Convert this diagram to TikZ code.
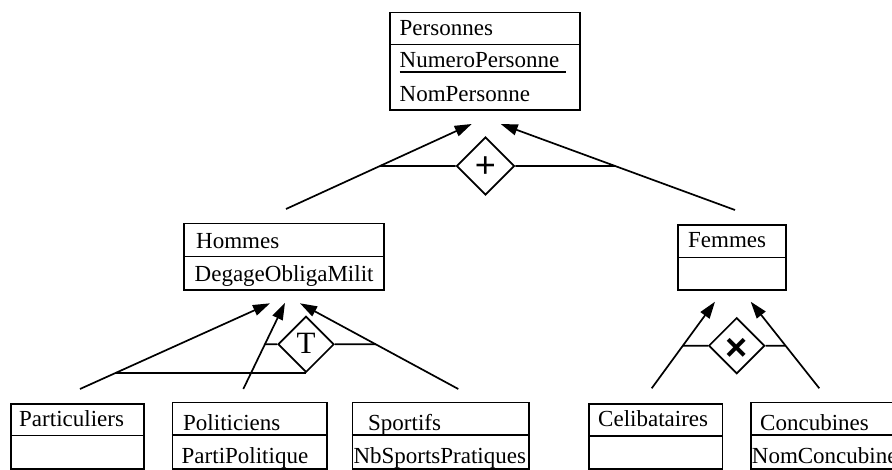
\documentclass[tikz,border=0pt]{standalone}
\usepackage{fontspec}
\setmainfont{Liberation Serif}
\newfontfamily\symfont{Liberation Sans}
\usetikzlibrary{shapes.geometric,arrows.meta,calc}
\tikzset{
  line/.style={line width=1.7pt},
  arr/.style={line width=1.7pt,-{Triangle[length=17pt,width=11pt]}},
  boxframe/.style={draw,line width=1.5pt,rectangle,inner sep=0pt,anchor=north west},
  txt/.style={anchor=base west,inner sep=0pt,font=\fontsize{23}{27}\selectfont},
  gen/.style={draw,line width=1.7pt,diamond,aspect=1,inner sep=0pt,minimum width=#1,minimum height=#1,fill=white},
  sym/.style={inner sep=0pt}
}
% box: name, x1, y1, x2, ydiv, y2
\newcommand{\umlbox}[6]{%
  \pgfmathsetmacro{\bw}{#4-#2}\pgfmathsetmacro{\bh}{#6-#3}%
  \node[boxframe,minimum width=\bw pt,minimum height=\bh pt] (#1) at (#2,#3) {};
  \draw[line width=1.5pt] (#2,#5) -- (#4,#5);
}
\begin{document}
\begin{tikzpicture}[x=1pt,y=-1pt]
\useasboundingbox (0,0) rectangle (892,469);
\clip (0,0) rectangle (892,469);
\fill[white] (0,0) rectangle (892,469);

% boxes
\umlbox{pers}{389}{11.7}{579}{44.3}{109.3}
\umlbox{hom}{183.3}{222.7}{383.3}{256.7}{289}
\umlbox{fem}{677.3}{224}{785}{257.7}{289}
\umlbox{part}{10}{403}{143.3}{435.7}{468}
\umlbox{pol}{171.7}{401.7}{326}{435}{468}
\umlbox{spo}{351.7}{401.7}{528}{435}{468}
\umlbox{celi}{588.3}{403.3}{721.7}{436}{468}
\umlbox{conc}{750}{401.7}{930}{435}{468}

% texts
\node[txt] (t1) at (399.5,35.7) {Personnes};
\node[txt] (t2) at (399.5,67.5) {NumeroPersonne};
\draw[line width=1.3pt] ($(t2.base west)+(0,4.5)$) -- ($(t2.base east)+(6,4.5)$);
\node[txt] (t3) at (399.5,101) {NomPersonne};
\node[txt] (t4) at (196,248.3) {Hommes};
\node[txt] (t5) at (194.5,281.7) {DegageObligaMilit};
\node[txt] (t6) at (688,247.3) {Femmes};
\node[txt] (t7) at (19,426.7) {Particuliers};
\node[txt] (t8) at (183,430) {Politiciens};
\node[txt] (t9) at (181.5,463) {PartiPolitique};
\node[txt] (t10) at (368,430) {Sportifs};
\node[txt] (t11) at (353.3,463) {NbSportsPratiques};
\node[txt] (t12) at (598,426.7) {Celibataires};
\node[txt] (t13) at (760,430) {Concubines};
\node[txt] (t14) at (751.7,463.3) {NomConcubines};

% arrow endpoints
\coordinate (as) at (286,209);     \coordinate (at) at (471.7,124);
\coordinate (bs) at (735,210);     \coordinate (bt) at (500.7,124);
\coordinate (c1s) at (80,389);     \coordinate (c1t) at (270,303.3);
\coordinate (c2s) at (243.3,389);  \coordinate (c2t) at (285,302.7);
\coordinate (c3s) at (458.3,389);  \coordinate (c3t) at (300,303.3);
\coordinate (d1s) at (651.7,388.3);\coordinate (d1t) at (715,301.7);
\coordinate (d2s) at (819.3,388.3);\coordinate (d2t) at (750.7,301.7);

% diamonds
\node[gen=58pt] (gplus) at (485.5,166) {};
\node[gen=56pt] (gT) at (306,344.3) {};
\node[gen=56pt] (gX) at (736.7,345.7) {};
\coordinate (gTs2) at ($(gT.south)+(10,0)$);

% junctions
\coordinate (ja) at (intersection of as--at and gplus.west--gplus.east);
\coordinate (jb) at (intersection of bs--bt and gplus.west--gplus.east);
\coordinate (jc1) at (intersection of c1s--c1t and gT.south--gTs2);
\coordinate (jc2) at (intersection of c2s--c2t and gT.west--gT.east);
\coordinate (jc3) at (intersection of c3s--c3t and gT.west--gT.east);
\coordinate (jd1) at (intersection of d1s--d1t and gX.west--gX.east);
\coordinate (jd2) at (intersection of d2s--d2t and gX.west--gX.east);

\draw[line] (ja) -- (gplus.west);
\draw[line] (gplus.east) -- (jb);
\draw[line] (jc1) -- (gT.south);
\draw[line] (jc2) -- (gT.west);
\draw[line] (gT.east) -- (jc3);
\draw[line] (jd1) -- (gX.west);
\draw[line] (gX.east) -- (jd2);

\draw[arr] (as) -- (at);
\draw[arr] (bs) -- (bt);
\draw[arr] (c1s) -- (c1t);
\draw[arr] (c2s) -- (c2t);
\draw[arr] (c3s) -- (c3t);
\draw[arr] (d1s) -- (d1t);
\draw[arr] (d2s) -- (d2t);

% symbols
\node[sym,font=\symfont\fontsize{36}{36}\selectfont] (splus) at ($(gplus.center)+(0,1)$) {+};
\node[sym,font=\fontsize{31}{31}\selectfont] (sT) at ($(gT.center)+(0,-1)$) {T};
\node[sym,font=\symfont\bfseries\fontsize{38}{38}\selectfont] (sX) at ($(gX.center)+(0,4)$) {×};
\end{tikzpicture}
\end{document}
